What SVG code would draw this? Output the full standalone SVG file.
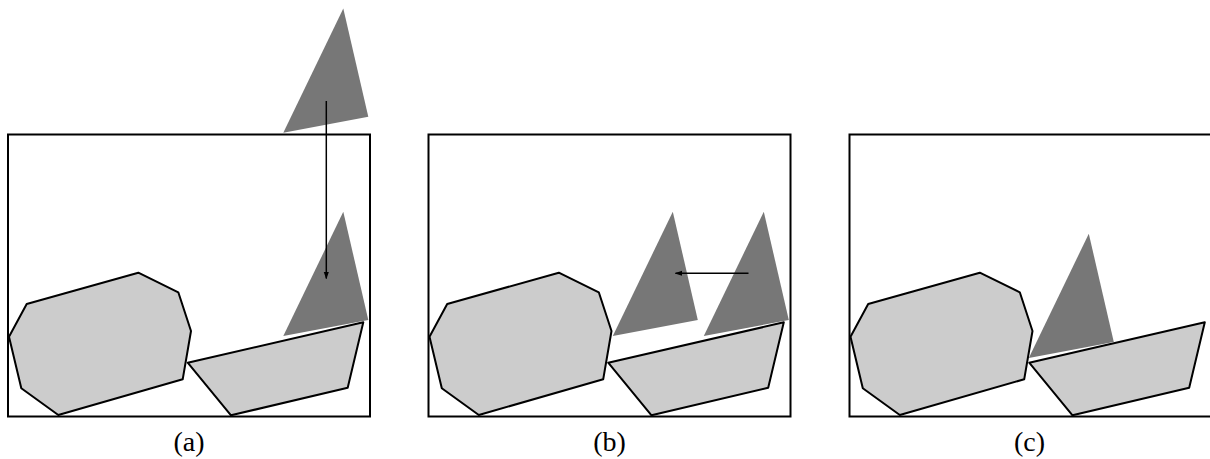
<svg xmlns="http://www.w3.org/2000/svg" width="1210" height="459" viewBox="0 0 1210 459">
<defs>
<style>
.frame{fill:none;stroke:#000;stroke-width:2}
.obs{fill:#cccccc;stroke:#000;stroke-width:2;stroke-linejoin:round}
.tri{fill:#777777;stroke:none}
.arr{stroke:#000;stroke-width:1.5;fill:none}
.lbl{font-family:"Liberation Serif",serif;font-size:28px;fill:#000;text-anchor:middle}
</style>
<marker id="ah" viewBox="0 0 10 10" refX="9" refY="5" markerWidth="5" markerHeight="5" orient="auto-start-reverse">
<path d="M0,1.5 L10,5 L0,8.5 Z" fill="#000"/>
</marker>
<polygon id="oct" points="26.7,304 138.3,272.7 178.3,292.3 191,331 182.7,379.3 58.3,415 21.3,388.3 9,336.7"/>
<polygon id="quad" points="187.7,362.7 363.3,322.3 347.7,387.7 231,415.3"/>
<polygon id="tri" points="343.3,211.7 368.3,320 283.3,336"/>
</defs>
<g id="panel-a">
<rect class="frame" x="8" y="134.5" width="362" height="282"/>
<use href="#oct" class="obs"/>
<use href="#quad" class="obs"/>
<use href="#tri" class="tri" transform="translate(0,-203.3)"/>
<use href="#tri" class="tri"/>
<text class="lbl" x="189" y="451">(a)</text>
</g>
<g id="panel-b" transform="translate(420.5,0)">
<rect class="frame" x="8" y="134.5" width="362" height="282"/>
<use href="#oct" class="obs"/>
<use href="#quad" class="obs"/>
<use href="#tri" class="tri"/>
<use href="#tri" class="tri" transform="translate(-91,0)"/>
<text class="lbl" x="189" y="451">(b)</text>
</g>
<g id="panel-c" transform="translate(841.5,0)">
<rect class="frame" x="8" y="134.5" width="362" height="282"/>
<use href="#oct" class="obs"/>
<use href="#quad" class="obs"/>
<use href="#tri" class="tri" transform="translate(-96,22)"/>
<text class="lbl" x="188" y="451">(c)</text>
</g>
<g id="connectors">
<line class="arr" x1="326.3" y1="101" x2="326.3" y2="278.5" marker-end="url(#ah)"/>
<line class="arr" x1="748.5" y1="273.3" x2="675.5" y2="273.3" marker-end="url(#ah)"/>
</g>
</svg>
